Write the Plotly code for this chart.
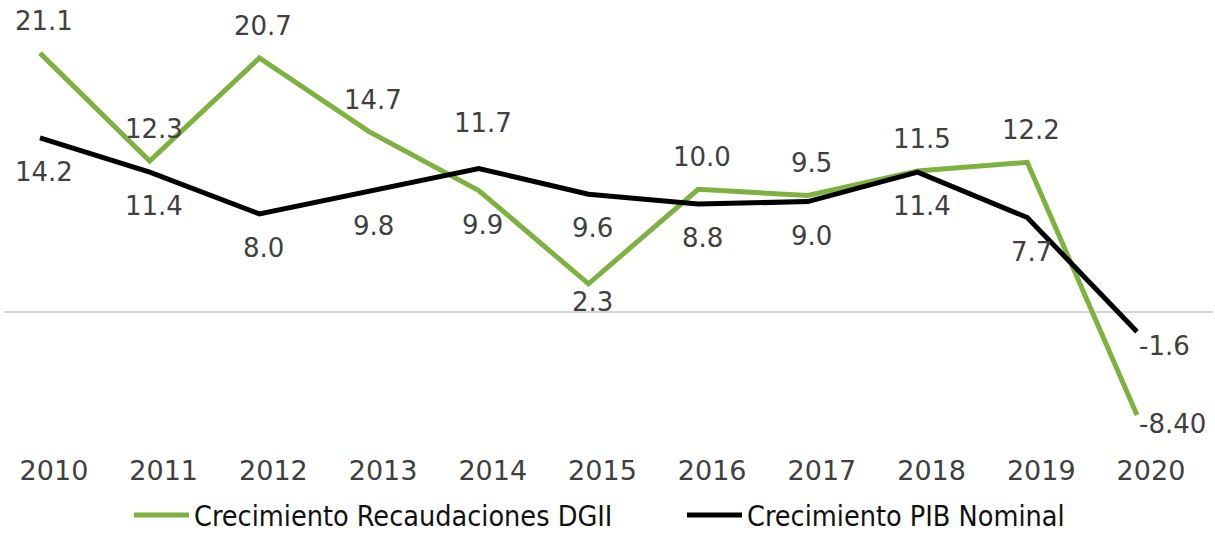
import plotly.graph_objects as go

years = [2010, 2011, 2012, 2013, 2014, 2015, 2016, 2017, 2018, 2019, 2020]
year_labels = [str(y) for y in years]

dgii_name = "Crecimiento Recaudaciones DGII"
dgii_values = [21.1, 12.3, 20.7, 14.7, 9.9, 2.3, 10.0, 9.5, 11.5, 12.2, -8.40]
dgii_text = ["21.1", "12.3", "20.7", "14.7", "9.9", "2.3", "10.0", "9.5", "11.5", "12.2", "-8.40"]

pib_name = "Crecimiento PIB Nominal"
pib_values = [14.2, 11.4, 8.0, 9.8, 11.7, 9.6, 8.8, 9.0, 11.4, 7.7, -1.6]
pib_text = ["14.2", "11.4", "8.0", "9.8", "11.7", "9.6", "8.8", "9.0", "11.4", "7.7", "-1.6"]

# label placement (style, not data)
dgii_pos = ["above", "above", "above", "above", "below", "below2", "above", "above", "above", "above", "right"]
pib_pos = ["below", "below", "below", "below", "above2", "below", "below", "below", "below", "below", "right"]

GREEN = "#7DB240"
BLACK = "#000000"
LABEL_COLOR = "#404040"
FONT = "DejaVu Sans"
LEGEND_FONT = "DejaVu Sans Condensed, DejaVu Sans"

fig = go.Figure()
fig.add_trace(go.Scatter(x=years, y=dgii_values, mode="lines", name=dgii_name,
                         line=dict(color=GREEN, width=5), hoverinfo="skip", legend="legend"))
fig.add_trace(go.Scatter(x=years, y=pib_values, mode="lines", name=pib_name,
                         line=dict(color=BLACK, width=5), hoverinfo="skip", legend="legend2"))

shift_map = {"above": (4, 32, "center"), "below": (4, -34, "center"),
             "above2": (4, 45, "center"), "below2": (4, -18, "center")}
annotations = []
for vals, texts, poss, yshift_right in [(dgii_values, dgii_text, dgii_pos, -9),
                                        (pib_values, pib_text, pib_pos, -14)]:
    for x, v, t, p in zip(years, vals, texts, poss):
        if p == "right":
            xs, ys, xa = 0, yshift_right, "left"
        else:
            xs, ys, xa = shift_map[p]
        annotations.append(dict(x=x, y=v, text=t, showarrow=False, xanchor=xa,
                                yanchor="middle", xshift=xs, yshift=ys,
                                font=dict(family=FONT, size=26, color=LABEL_COLOR)))

legend_common = dict(orientation="h", xref="container", yref="container",
                     xanchor="left", yanchor="bottom", y=-0.011, itemwidth=55,
                     bgcolor="rgba(0,0,0,0)", borderwidth=0,
                     font=dict(family=LEGEND_FONT, size=28.5, color="#111111"))

fig.update_layout(
    width=1215, height=541,
    margin=dict(l=4, r=2, t=20, b=101, autoexpand=False),
    paper_bgcolor="white", plot_bgcolor="white",
    showlegend=True,
    legend=dict(x=129 / 1215, **legend_common),
    legend2=dict(x=682 / 1215, **legend_common),
    annotations=annotations,
    xaxis=dict(range=[2009.672, 2020.693], tickvals=years, ticktext=year_labels,
               showgrid=False, zeroline=False, showline=False, ticks="", automargin=False,
               ticklabelshift=14, ticklabelstandoff=12,
               tickfont=dict(family=FONT, size=27, color=LABEL_COLOR)),
    yaxis=dict(range=[-10.43, 23.8], showticklabels=False, showgrid=False, automargin=False,
               zeroline=True, zerolinecolor="#D3D6DC", zerolinewidth=1.5, showline=False),
)

fig.write_html("out.html", config={"displayModeBar": False},
               post_script="document.body.style.margin='0px';document.body.style.overflow='hidden';")
